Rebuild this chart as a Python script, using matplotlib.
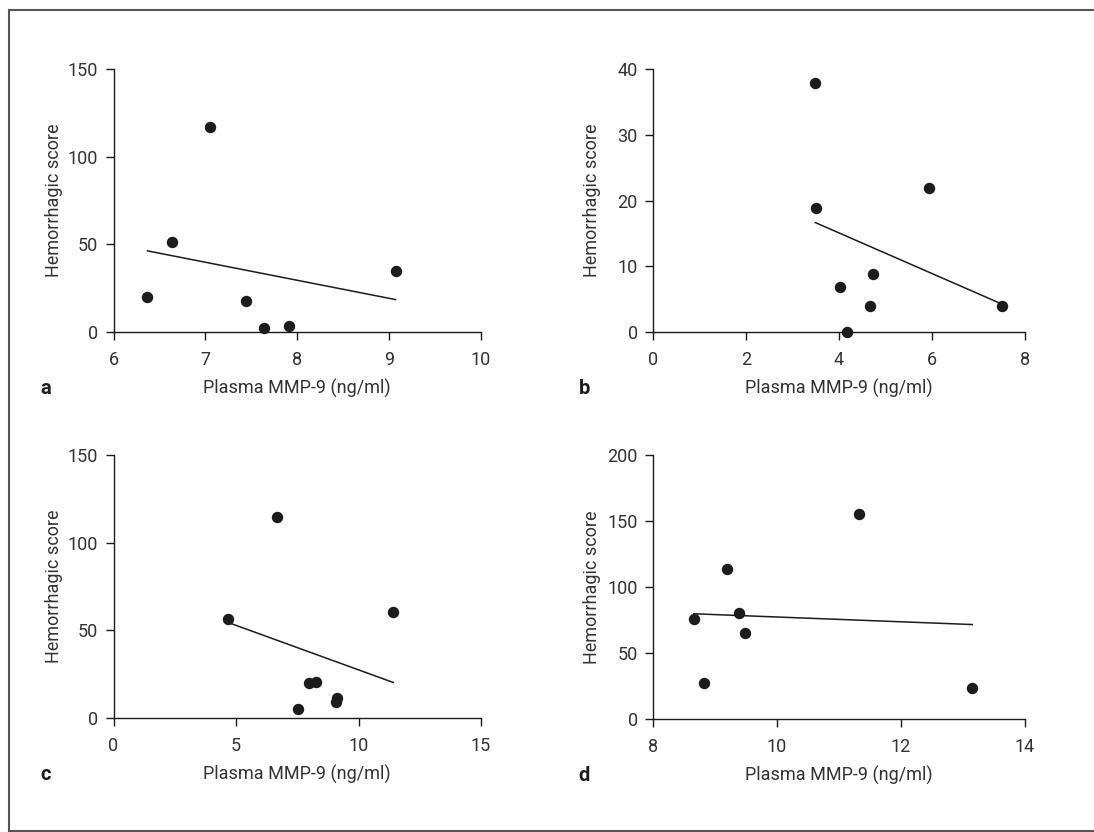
import numpy as np
import matplotlib
matplotlib.use("Agg")
import matplotlib.pyplot as plt
from matplotlib.lines import Line2D

plt.rcParams['font.family'] = ['Roboto', 'DejaVu Sans']

# plasma MMP-9 (ng/ml) and hemorrhagic score for each group
mmp9_a = [6.37, 6.64, 7.05, 7.44, 7.64, 7.91, 9.07]
score_a = [19.8, 51.3, 116.7, 17.7, 2.3, 3.6, 35.0]

mmp9_b = [3.49, 3.51, 4.02, 4.18, 4.66, 4.74, 5.94, 7.50]
score_b = [37.8, 18.8, 6.8, 0.0, 3.9, 8.8, 21.9, 3.9]

mmp9_c = [4.68, 6.67, 7.55, 7.98, 8.25, 9.08, 9.13, 11.42]
score_c = [56.7, 114.4, 5.1, 20.0, 20.5, 8.9, 11.2, 60.3]

mmp9_d = [8.66, 8.83, 9.20, 9.38, 9.48, 11.32, 13.15]
score_d = [75.4, 27.3, 113.4, 80.5, 65.3, 155.2, 23.8]

xticks_a = [6, 7, 8, 9, 10]
yticks_a = [0, 50, 100, 150]
xticks_b = [0, 2, 4, 6, 8]
yticks_b = [0, 10, 20, 30, 40]
xticks_c = [0, 5, 10, 15]
yticks_c = [0, 50, 100, 150]
xticks_d = [8, 10, 12, 14]
yticks_d = [0, 50, 100, 150, 200]

W, H = 1094, 832
fig = plt.figure(figsize=(W / 100, H / 100), dpi=100)

ink = '#1c1c1c'
txt = '#333333'
fs = 13


def box(left, right, top, bottom):
    return [left / W, 1 - bottom / H, (right - left) / W, (bottom - top) / H]


def panel(rect, x, y, xticks, yticks, letter):
    ax = fig.add_axes(rect)
    ax.set_xlim(xticks[0], xticks[-1])
    ax.set_ylim(yticks[0], yticks[-1])
    ax.set_xticks(xticks)
    ax.set_yticks(yticks)
    for s in ['top', 'right']:
        ax.spines[s].set_visible(False)
    for s in ['left', 'bottom']:
        ax.spines[s].set_color(ink)
        ax.spines[s].set_linewidth(1.0)
    ax.tick_params(direction='out', length=5.5, width=1.0, color=ink,
                   labelsize=fs, labelcolor=txt)
    ax.tick_params(axis='x', pad=8.5)
    ax.tick_params(axis='y', pad=5.5)

    # least-squares line over the range of the data
    k, b = np.polyfit(x, y, 1)
    xs = np.array([min(x), max(x)])
    ax.plot(xs, k * xs + b, color=ink, lw=1.1, clip_on=False)
    ax.plot(x, y, 'o', color=ink, ms=7.2, clip_on=False, zorder=3)

    ax.set_xlabel('Plasma MMP-9 (ng/ml)', fontsize=fs, color=txt, va='center')
    ax.set_ylabel('Hemorrhagic score', fontsize=fs, color=txt, va='center')
    ax.xaxis.set_label_coords(0.5, -0.215)
    ax.yaxis.set_label_coords(-0.163, 0.5)
    ax.text(-0.185, -0.215, letter, transform=ax.transAxes, fontsize=fs + 1.5,
            fontweight='bold', color=ink, ha='center', va='center')
    return ax


panel(box(113.5, 481, 69, 332), mmp9_a, score_a, xticks_a, yticks_a, 'a')
panel(box(653, 1025, 69, 332), mmp9_b, score_b, xticks_b, yticks_b, 'b')
panel(box(113.5, 481, 455, 718), mmp9_c, score_c, xticks_c, yticks_c, 'c')
panel(box(653, 1025, 455, 719), mmp9_d, score_d, xticks_d, yticks_d, 'd')

# frame around the figure (open on the right)
fx = lambda p: p / W
fy = lambda p: 1 - p / H
frame = dict(color='#555555', lw=1.5, transform=fig.transFigure)
fig.add_artist(Line2D([fx(9), fx(9)], [fy(9.5), fy(830.5)], **frame))
fig.add_artist(Line2D([fx(9), 1], [fy(9.5), fy(9.5)], **frame))
fig.add_artist(Line2D([fx(9), 1], [fy(830.5), fy(830.5)], **frame))

fig.savefig('out.png', dpi=100)
